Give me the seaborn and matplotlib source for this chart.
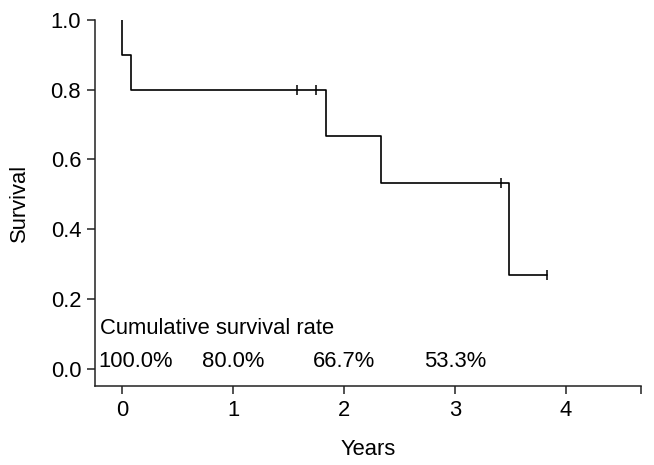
import pandas as pd
import numpy as np
import matplotlib.pyplot as plt
import seaborn as sns

# Kaplan-Meier curve (years, survival)
step_years = [0.0, 0.0, 0.08, 1.835, 2.33, 3.49, 3.83]
step_survival = [1.0, 0.9, 0.8, 0.667, 0.533, 0.267, 0.267]

# Censored observations
censor_years = [1.58, 1.75, 3.41, 3.83]
censor_survival = [0.8, 0.8, 0.533, 0.267]

# Cumulative survival rate labels at each year
rate_years = [0.12, 1.0, 2.0, 3.0]
rate_labels = ["100.0%", "80.0%", "66.7%", "53.3%"]

curve = pd.DataFrame({"Years": step_years, "Survival": step_survival})
censored = pd.DataFrame({"Years": censor_years, "Survival": censor_survival})

sns.set_style("ticks")
plt.rcParams["font.family"] = ["Liberation Sans", "DejaVu Sans"]
plt.rcParams["text.color"] = "black"
plt.rcParams["axes.labelcolor"] = "black"
plt.rcParams["xtick.color"] = "black"
plt.rcParams["ytick.color"] = "black"
fs = 15.8

fig = plt.figure(figsize=(6.54, 4.65), dpi=100)
ax = fig.add_axes([0.1453, 0.170, 0.835, 0.787])

sns.lineplot(data=curve, x="Years", y="Survival", estimator=None, sort=False,
             drawstyle="steps-post", color="black", linewidth=1.2, ax=ax)
sns.scatterplot(data=censored, x="Years", y="Survival", marker="|", s=60,
                color="black", linewidth=1.1, ax=ax, zorder=3)

ax.text(-0.2, 0.115, "Cumulative survival rate", ha="left", va="center", fontsize=fs)
for x, lab in zip(rate_years, rate_labels):
    ax.text(x, 0.02, lab, ha="center", va="center", fontsize=fs)

ax.set_xlim(-0.243, 4.676)
ax.set_ylim(-0.05, 1.0)
ax.set_xticks([0, 1, 2, 3, 4])
ax.set_xticks([4.676], minor=True)
ax.set_yticks([0.0, 0.2, 0.4, 0.6, 0.8, 1.0])
ax.set_yticklabels(["0.0", "0.2", "0.4", "0.6", "0.8", "1.0"])
ax.tick_params(axis="both", which="both", length=6, width=1.1, color="#222222",
               labelsize=fs, pad=4)
ax.tick_params(axis="x", which="minor", length=6)

for side in ["top", "right"]:
    ax.spines[side].set_visible(False)
for side in ["left", "bottom"]:
    ax.spines[side].set_linewidth(1.1)
    ax.spines[side].set_color("#222222")

ax.set_xlabel("Years", fontsize=fs, labelpad=13)
ax.set_ylabel("Survival", fontsize=fs, labelpad=15)

fig.savefig("out.png", dpi=100)
